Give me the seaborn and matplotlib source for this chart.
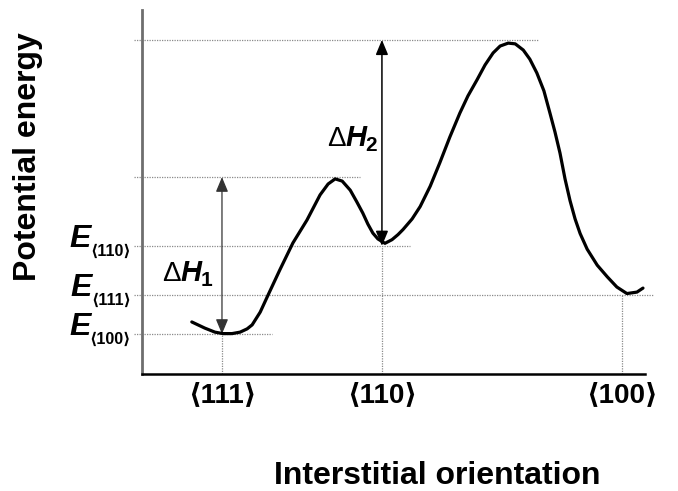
import numpy as np
import pandas as pd
import matplotlib
matplotlib.use("Agg")
import matplotlib.pyplot as plt
import matplotlib.transforms as mtransforms
import seaborn as sns

# ---------------- data ----------------
x_curve = [9.9, 12.5, 14.5, 16.1, 17.9, 19.5, 20.9, 21.9, 23.5, 24.9, 27.4, 30.0,
           32.8, 35.4, 37.0, 38.4, 39.8, 41.4, 42.7, 43.9, 44.9, 45.9, 46.9, 48.3,
           49.7, 50.9, 51.9, 53.7, 55.3, 57.3, 59.2, 61.2, 63.2, 64.8, 66.6, 68.2,
           69.8, 71.2, 72.8, 74.2, 75.8, 77.1, 78.5, 79.9, 81.1, 82.1, 83.1, 84.1,
           85.1, 86.1, 87.1, 88.5, 90.5, 92.5, 94.4, 96.4, 98.4, 99.6]
y_curve = [14.3, 12.6, 11.5, 11.1, 11.1, 11.5, 12.4, 13.5, 17.0, 21.2, 28.6, 36.0,
           42.3, 49.2, 52.2, 53.6, 53.0, 50.5, 47.3, 44.2, 41.2, 38.7, 37.1, 35.9,
           36.9, 38.3, 39.7, 42.6, 46.0, 51.6, 58.0, 65.1, 71.7, 76.4, 80.8, 84.9,
           88.2, 90.1, 90.9, 90.7, 89.0, 86.5, 82.7, 77.8, 71.7, 66.5, 60.7, 53.6,
           47.6, 42.6, 38.6, 34.3, 29.9, 26.7, 23.9, 22.1, 22.5, 23.6]

orient_pos = [15.9, 47.7, 95.4]
orient_labels = ["\u27e8111\u27e9", "\u27e8110\u27e9", "\u27e8100\u27e9"]

# energy levels E<100>, E<111>, E<110>, and the two barrier tops
level_names = ["\u27e8100\u27e9", "\u27e8111\u27e9", "\u27e8110\u27e9"]
level_values = [11.0, 21.7, 35.2]
barrier_values = [54.1, 91.8]
level_line_ends = [25.8, 101.5, 53.3]
barrier_line_ends = [43.3, 78.7]

# ---------------- style ----------------
sns.set_style("white")
plt.rcParams["font.family"] = ["Liberation Sans", "DejaVu Sans"]
plt.rcParams["text.color"] = "black"
plt.rcParams["axes.labelcolor"] = "black"
plt.rcParams["xtick.color"] = "black"
plt.rcParams["ytick.color"] = "black"

fig = plt.figure(figsize=(6.78, 4.91), dpi=100)
W, H = 678, 491
ax = fig.add_axes([142 / W, 1 - 374 / H, 503 / W, 364 / H])
ax.set_xlim(0, 100)
ax.set_ylim(0, 100)

df = pd.DataFrame({"x": x_curve, "y": y_curve})
sns.lineplot(data=df, x="x", y="y", sort=False, estimator=None, color="black",
             linewidth=2.3, ax=ax, zorder=5)
ax.lines[-1].set_solid_joinstyle("round")
ax.lines[-1].set_solid_capstyle("round")

guide = dict(color="#8a8a8a", linewidth=0.9, linestyle=(0, (1, 1)), clip_on=False, zorder=2)
for v, xe in zip(level_values, level_line_ends):
    ax.plot([-1.6, xe], [v, v], **guide)
for v, xe in zip(barrier_values, barrier_line_ends):
    ax.plot([-1.6, xe], [v, v], **guide)
for xp, v in zip(orient_pos, [level_values[0], level_values[2], level_values[1]]):
    ax.plot([xp, xp], [0, v], **guide)

# Delta H arrows
ax.annotate("", xy=(orient_pos[0], barrier_values[0]), xytext=(orient_pos[0], level_values[0]),
            arrowprops=dict(arrowstyle="<|-|>,head_length=0.6,head_width=0.25", color="#333333",
                            lw=0.9, shrinkA=0, shrinkB=0, mutation_scale=15), zorder=4)
ax.annotate("", xy=(orient_pos[1], barrier_values[1]), xytext=(orient_pos[1], level_values[2]),
            arrowprops=dict(arrowstyle="<|-|>,head_length=0.6,head_width=0.25", color="black",
                            lw=1.1, shrinkA=0, shrinkB=0, mutation_scale=15), zorder=4)

for s in ["top", "right"]:
    ax.spines[s].set_visible(False)
ax.spines["left"].set_color("#6e6e6e")
ax.spines["left"].set_linewidth(2.0)
ax.spines["bottom"].set_color("black")
ax.spines["bottom"].set_linewidth(1.8)
ax.set_yticks([])
ax.set_xticks(orient_pos)
ax.set_xticklabels(orient_labels, fontsize=20, fontweight="bold")
ax.tick_params(axis="x", length=0, pad=6)

ax.set_xlabel("Interstitial orientation", fontsize=23, fontweight="bold")
ax.xaxis.label.set_va("center")
ax.xaxis.set_label_coords(0.587, -0.280)
ax.set_ylabel("Potential energy", fontsize=23, fontweight="bold")
ax.yaxis.label.set_va("center")
ax.yaxis.set_label_coords(-0.2266, 0.596)

# ---------------- composite labels ----------------
renderer = fig.canvas.get_renderer()
ident = mtransforms.IdentityTransform()

for name, v in zip(level_names, level_values):
    _, yd = ax.transData.transform((0, v))
    sub = fig.text(131, yd - 10, name, transform=ident, ha="right", va="baseline",
                   fontsize=11.5, fontweight="bold")
    bb = sub.get_window_extent(renderer)
    fig.text(bb.x0 + 1, yd - 1, "E", transform=ident, ha="right", va="baseline",
             fontsize=23, fontweight="bold", fontstyle="italic")

def delta_h(x_left_px, baseline_px, idx):
    y = H - baseline_px
    t1 = fig.text(x_left_px, y, "\u0394", transform=ident, ha="left", va="baseline",
                  fontsize=20)
    b1 = t1.get_window_extent(renderer)
    t2 = fig.text(b1.x1, y, "H", transform=ident, ha="left", va="baseline",
                  fontsize=21, fontweight="bold", fontstyle="italic")
    b2 = t2.get_window_extent(renderer)
    fig.text(b2.x1 - 1, y - 5, idx, transform=ident, ha="left", va="baseline",
             fontsize=15, fontweight="bold")

delta_h(162, 281, "1")
delta_h(327, 146, "2")

fig.savefig("out.png", dpi=100)
